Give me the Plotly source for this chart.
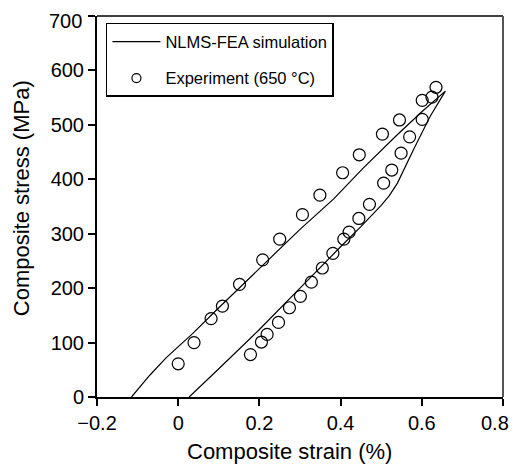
import plotly.graph_objects as go

# Simulation (NLMS-FEA): upper branch and lower branch, joined at peak
sim_upper_x = [-0.115, -0.10, -0.07, -0.03, 0.0, 0.036, 0.1, 0.151, 0.2, 0.3, 0.383, 0.455, 0.537, 0.6, 0.658]
sim_upper_y = [0, 14, 40, 72, 92, 117, 164, 201, 236, 308, 364, 420, 480, 524, 562]
sim_lower_x = [0.658, 0.62, 0.58, 0.56, 0.54, 0.52, 0.5, 0.45, 0.4, 0.3, 0.2, 0.1, 0.027]
sim_lower_y = [562, 515, 455, 423, 393, 370, 352, 313, 276, 200, 124, 52, 0]

# Experiment (650 °C)
exp_x = [0.0, 0.039, 0.081, 0.109, 0.151, 0.208, 0.25, 0.306, 0.349, 0.405, 0.446, 0.503, 0.545,
         0.601, 0.625, 0.635,
         0.178, 0.205, 0.219, 0.247, 0.274, 0.301, 0.328, 0.355, 0.381, 0.408, 0.421, 0.445,
         0.471, 0.506, 0.526, 0.549, 0.570, 0.601]
exp_y = [61, 100, 144, 167, 207, 252, 290, 335, 371, 412, 445, 483, 509,
         545, 551, 569,
         78, 101, 115, 137, 164, 185, 211, 237, 264, 290, 303, 328,
         354, 393, 417, 448, 478, 510]

x_ticks = [-0.2, 0, 0.2, 0.4, 0.6, 0.8]
x_ticklabels = ["\u22120.2", "0", "0.2", "0.4", "0.6", "0.8"]
y_ticks = [0, 100, 200, 300, 400, 500, 600, 700]
y_ticklabels = [str(v) for v in y_ticks]

FONT = "Arial, Liberation Sans, sans-serif"
TICK_SIZE = 20

fig = go.Figure()
fig.add_trace(go.Scatter(
    x=sim_upper_x + sim_lower_x[1:], y=sim_upper_y + sim_lower_y[1:],
    mode="lines", line=dict(color="black", width=1.2),
    name="NLMS-FEA simulation", legendgroup="a"))
fig.add_trace(go.Scatter(
    x=exp_x, y=exp_y, mode="markers",
    marker=dict(symbol="circle-open", size=12, color="black", line=dict(width=1.2)),
    name="Experiment (650 °C)", legendgroup="b", showlegend=False))
# legend-only entry (smaller symbol, as in the original legend)
fig.add_trace(go.Scatter(
    x=[None], y=[None], mode="markers",
    marker=dict(symbol="circle-open", size=9, color="black", line=dict(width=1.2)),
    name="Experiment (650 °C)", legendgroup="b"))

# edge tick labels are drawn as annotations, nudged inward so they are not cut at the page edge
axis_xticktext = x_ticklabels[:-1] + [""]
axis_yticktext = y_ticklabels[:-1] + [""]

# page has 8px body margin: figure is 503x456 so that plot area lands at 97..503, 16..397
fig.update_layout(
    width=503, height=456,
    margin=dict(l=89, r=8, t=8, b=67),
    paper_bgcolor="white", plot_bgcolor="white",
    font=dict(family=FONT, color="black", size=21),
    showlegend=True,
    legend=dict(x=0.022, y=0.982, xanchor="left", yanchor="top",
                bordercolor="black", borderwidth=1.5, bgcolor="white",
                font=dict(size=16.5, family=FONT), tracegroupgap=12,
                itemwidth=48),
    xaxis=dict(range=[-0.2, 0.8], tickvals=x_ticks, ticktext=axis_xticktext,
               showgrid=False, zeroline=False, showline=True, linecolor="black",
               linewidth=2, ticks="outside", ticklen=7, tickwidth=1.5,
               tickcolor="black", tickfont=dict(size=TICK_SIZE),
               ticklabeloverflow="allow", automargin=False),
    yaxis=dict(range=[0, 700], tickvals=y_ticks, ticktext=axis_yticktext,
               showgrid=False, zeroline=False, showline=True, linecolor="black",
               linewidth=2, ticks="outside", ticklen=7, tickwidth=1.5,
               tickcolor="black", tickfont=dict(size=TICK_SIZE),
               ticklabeloverflow="allow", automargin=False),
    shapes=[
        dict(type="line", xref="paper", yref="paper", x0=0, x1=1, y0=1, y1=1,
             line=dict(color="black", width=1.5)),
        dict(type="line", xref="paper", yref="paper", x0=1, x1=1, y0=0, y1=1,
             line=dict(color="#555555", width=2)),
    ],
    annotations=[
        dict(text=x_ticklabels[-1], xref="paper", yref="paper",
             x=1.0185, y=-0.068, xanchor="right", yanchor="middle",
             showarrow=False, font=dict(size=TICK_SIZE)),
        dict(text=y_ticklabels[-1], xref="paper", yref="paper",
             x=-0.031, y=1.021, xanchor="right", yanchor="top",
             showarrow=False, font=dict(size=TICK_SIZE)),
        dict(text="Composite strain (%)", xref="paper", yref="paper",
             x=0.475, y=-0.143, xanchor="center", yanchor="middle",
             showarrow=False, font=dict(size=22)),
        dict(text="Composite stress (MPa)", xref="paper", yref="paper",
             x=-0.187, y=0.522, xanchor="center", yanchor="middle", textangle=-90,
             showarrow=False, font=dict(size=22)),
    ],
)

fig.write_html("out.html")
